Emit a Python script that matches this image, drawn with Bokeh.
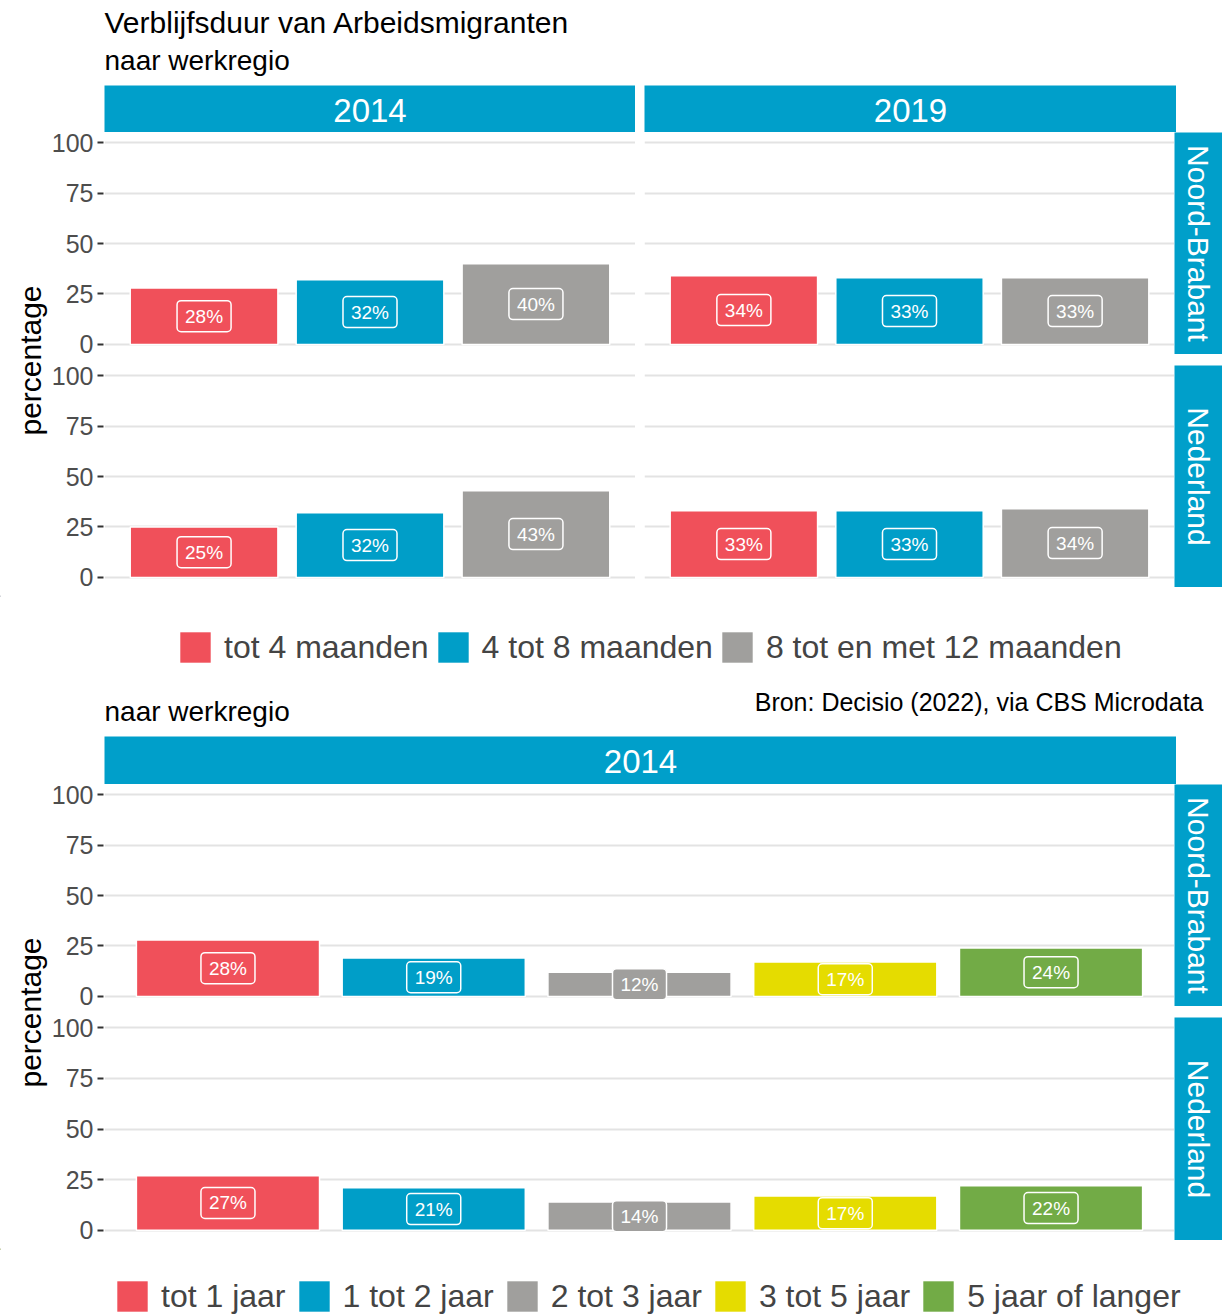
import math
from bokeh.plotting import figure
from bokeh.models import Range1d, Spacer, ColumnDataSource, Legend, LegendItem, FixedTicker, Label
from bokeh.layouts import column, row
from bokeh.embed import file_html
from bokeh.resources import INLINE
from bokeh.core.properties import value, field

# ---------------- data ----------------
title_text = "Verblijfsduur van Arbeidsmigranten"
subtitle_text = "naar werkregio"
source_text = "Bron: Decisio (2022), via CBS Microdata"
y_label = "percentage"
y_ticks = [0, 25, 50, 75, 100]
regions = ["Noord-Brabant", "Nederland"]

top_periods = ["2014", "2019"]
top_categories = ["tot 4 maanden", "4 tot 8 maanden", "8 tot en met 12 maanden"]
top_colors = ["#F0505A", "#009EC8", "#A09F9D"]
top_nb_2014 = [28, 32, 40]
top_nb_2019 = [34, 33, 33]
top_nl_2014 = [25, 32, 43]
top_nl_2019 = [33, 33, 34]

bottom_periods = ["2014"]
bottom_categories = ["tot 1 jaar", "1 tot 2 jaar", "2 tot 3 jaar", "3 tot 5 jaar", "5 jaar of langer"]
bottom_colors = ["#F0505A", "#009EC8", "#A09F9D", "#E5DC00", "#72AB46"]
bottom_nb_2014 = [28, 19, 12, 17, 24]
bottom_nl_2014 = [27, 21, 14, 17, 22]

top_values = {
    ("Noord-Brabant", "2014"): top_nb_2014,
    ("Noord-Brabant", "2019"): top_nb_2019,
    ("Nederland", "2014"): top_nl_2014,
    ("Nederland", "2019"): top_nl_2019,
}
bottom_values = {
    ("Noord-Brabant", "2014"): bottom_nb_2014,
    ("Nederland", "2014"): bottom_nl_2014,
}

# ---------------- style ----------------
FONT = "Liberation Sans"
STRIP = "#009FCA"
GRID = "#E3E3E3"
W = 1222
YLAB_W = 48
AX_W = 56
Y_RANGE = (-5, 105)


def _zero_borders(p):
    p.min_border = 0
    p.min_border_left = 0
    p.min_border_right = 0
    p.min_border_top = 0
    p.min_border_bottom = 0


def blank(width, height, bg="white"):
    p = figure(width=width, height=height, x_range=Range1d(0, width), y_range=Range1d(height, 0),
               x_axis_location=None, y_axis_location=None, toolbar_location=None,
               output_backend="svg")
    _zero_borders(p)
    p.grid.visible = False
    p.outline_line_color = None
    p.background_fill_color = bg
    p.border_fill_color = bg
    return p


def add_label(p, x, y, text, size, color="black", align="left", angle=0.0):
    p.add_layout(Label(x=x, y=y, text=text, text_font=FONT, text_font_size=f"{size}px",
                       text_color=color, text_align=align, text_baseline="middle", angle=angle))


def strip(width, height, text, vertical=False):
    p = blank(width, height, bg=STRIP)
    if vertical:
        add_label(p, 24, height / 2, text, 30, color="white", align="center", angle=-math.pi / 2)
    else:
        add_label(p, width / 2, 25, text, 33, color="white", align="center")
    return p


def axis_fig(height, top, bottom):
    p = figure(width=AX_W, height=height, x_range=Range1d(0, 1), y_range=Range1d(*Y_RANGE),
               x_axis_location=None, y_axis_location="left",
               toolbar_location=None, output_backend="svg")
    _zero_borders(p)
    p.min_border_left = AX_W - 1
    p.min_border_top = top
    p.min_border_bottom = bottom
    p.outline_line_color = None
    p.grid.visible = False
    ax = p.yaxis[0]
    ax.ticker = FixedTicker(ticks=y_ticks)
    ax.axis_line_color = None
    ax.major_tick_line_color = "#333333"
    ax.major_tick_line_width = 2
    ax.major_tick_out = 6
    ax.major_tick_in = 0
    ax.minor_tick_line_color = None
    ax.major_label_text_font = FONT
    ax.major_label_text_font_size = "25px"
    ax.major_label_text_color = "#4D4D4D"
    ax.major_label_standoff = 4
    return p


def panel(values, colors, frame_w, height):
    n = len(values)
    src = ColumnDataSource(dict(
        x=list(range(1, n + 1)), top=values, bar_color=colors,
        lab=[f"{v}%" for v in values], ly=[v / 2 for v in values]))
    p = figure(width=frame_w, height=height, x_range=Range1d(0.4, n + 0.6),
               y_range=Range1d(*Y_RANGE), x_axis_location=None, y_axis_location=None,
               toolbar_location=None, output_backend="svg")
    _zero_borders(p)
    p.outline_line_color = None
    p.xgrid.visible = False
    p.ygrid.ticker = FixedTicker(ticks=y_ticks)
    p.ygrid.grid_line_color = GRID
    p.ygrid.grid_line_width = 2
    p.vbar(x="x", top="top", bottom=0, width=0.89, source=src,
           fill_color=field("bar_color"), line_color="white", line_width=1.5)
    p.text(x="x", y="ly", text="lab", source=src, text_font=value(FONT), text_font_size="19px",
           text_color="white", text_align="center", text_baseline="middle",
           background_fill_color=field("bar_color"), border_line_color="white",
           border_line_width=1.5, border_radius=4, padding=(8, 5))
    return p


def legend_fig(height, categories, colors, loc, size, spacing):
    p = blank(W, height)
    items = []
    for c, col in zip(categories, colors):
        # off-canvas proxy glyph so that the legend has a swatch to draw
        r = p.vbar(x=[-1000], top=[1], width=1, fill_color=col, line_color=None)
        items.append(LegendItem(label=c, renderers=[r]))
    # box glyphs are drawn at 80% of the glyph box -> 38px box gives ~30px swatch
    lg = Legend(items=items, orientation="horizontal", location=loc,
                glyph_width=38, glyph_height=38, label_standoff=10, spacing=spacing,
                padding=0, margin=0, border_line_color=None, background_fill_alpha=0,
                label_text_font=FONT, label_text_font_size=f"{size}px", label_height=38)
    p.add_layout(lg, "center")
    return p


# ---------------- top section ----------------
top_header = blank(W, 85)
add_label(top_header, 104, 22, title_text, 30)
add_label(top_header, 104, 60, subtitle_text, 28)

top_ylab = blank(YLAB_W, 510)
add_label(top_ylab, 30, 275, y_label, 30, align="center", angle=math.pi / 2)

top_axes = column(Spacer(width=AX_W, height=39), axis_fig(235, 8, 5),
                  Spacer(width=AX_W, height=1), axis_fig(235, 5, 8))

top_strip_row = row(strip(531, 47, top_periods[0]), Spacer(width=9, height=47),
                    strip(532, 47, top_periods[1]), Spacer(width=46, height=47))
top_rows = []
for reg in regions:
    top_rows.append(row(
        panel(top_values[(reg, top_periods[0])], top_colors, 531, 222),
        Spacer(width=9, height=222),
        panel(top_values[(reg, top_periods[1])], top_colors, 530, 222),
        strip(48, 222, reg, vertical=True)))

top_body = row(top_ylab, top_axes,
               column(top_strip_row, top_rows[0], Spacer(width=1118, height=11), top_rows[1]))
top_legend = legend_fig(85, top_categories, top_colors, (176, 14), 32, 5)

# ---------------- bottom section ----------------
bottom_header = blank(W, 56)
add_label(bottom_header, 104, 31, subtitle_text, 28)
add_label(bottom_header, 1203, 21, source_text, 25, align="right")

bottom_ylab = blank(YLAB_W, 512)
add_label(bottom_ylab, 30, 276, y_label, 30, align="center", angle=math.pi / 2)

bottom_axes = column(Spacer(width=AX_W, height=40), axis_fig(235, 8, 5),
                     Spacer(width=AX_W, height=1), axis_fig(236, 5, 8))

bottom_strip_row = row(strip(1072, 48, bottom_periods[0]), Spacer(width=46, height=48))
brow1 = row(panel(bottom_values[(regions[0], bottom_periods[0])], bottom_colors, 1070, 222),
            strip(48, 222, regions[0], vertical=True))
brow2 = row(panel(bottom_values[(regions[1], bottom_periods[0])], bottom_colors, 1070, 223),
            strip(48, 223, regions[1], vertical=True))
bottom_body = row(bottom_ylab, bottom_axes,
                  column(bottom_strip_row, brow1, Spacer(width=1118, height=11), brow2))
bottom_legend = legend_fig(68, bottom_categories, bottom_colors, (113, 1), 32, 9)

layout = column(top_header, top_body, top_legend, bottom_header, bottom_body, bottom_legend)

open("out.html", "w").write(file_html(layout, INLINE))
